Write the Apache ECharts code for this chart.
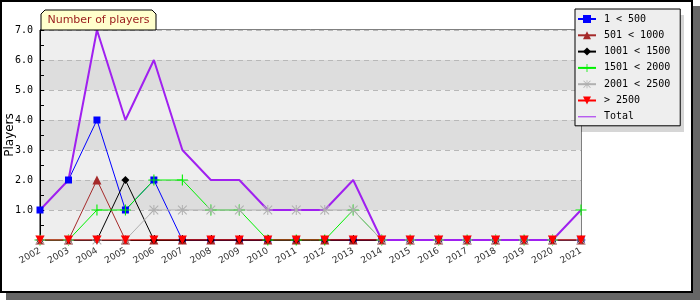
<!DOCTYPE html>
<html><head><meta charset="utf-8">
<script src="https://cdn.jsdelivr.net/npm/echarts@6/dist/echarts.min.js"></script>
<style>html,body{margin:0;padding:0;background:#fff}#c{width:700px;height:300px}</style>
</head><body><div id="c"></div>
<script>
// ---- data ----
const years = ['2002','2003','2004','2005','2006','2007','2008','2009','2010','2011','2012','2013','2014','2015','2016','2017','2018','2019','2020','2021'];
const seriesNames = ['1 < 500','501 < 1000','1001 < 1500','1501 < 2000','2001 < 2500','> 2500'];
const totalName = 'Total';
const s1to500     = [1,2,4,1,2,0,0,0,0,0,0,0,0,0,0,0,0,0,0,0];
const s501to1000  = [0,0,2,0,0,0,0,0,0,0,0,0,0,0,0,0,0,0,0,0];
const s1001to1500 = [0,0,0,2,0,0,0,0,0,0,0,0,0,0,0,0,0,0,0,0];
const s1501to2000 = [0,0,1,1,2,2,1,1,0,0,0,1,0,0,0,0,0,0,0,1];
const s2001to2500 = [0,0,0,0,1,1,1,1,1,1,1,1,0,0,0,0,0,0,0,0];
const sOver2500   = [0,0,0,0,0,0,0,0,0,0,0,0,0,0,0,0,0,0,0,0];
const total       = [1,2,7,4,6,3,2,2,1,1,1,2,0,0,0,0,0,0,0,1];
const yAxisTitle = 'Players';
const chartTitle = 'Number of players';

// ---- styles ----
const plus = 'path://M0,4.5H10V5.5H0Z M4.5,0H5.5V10H4.5Z';
const star = 'path://M0,4.5H10V5.5H0Z M4.5,0H5.5V10H4.5Z M1,0.3L9.7,9L9,9.7L0.3,1Z M9,0.3L9.7,1L1,9.7L0.3,9Z';
const downTri = 'path://M0,0L10,0L5,10Z';
const styles = [
  {color:'#0000ff', symbol:'rect', size:7},
  {color:'#a52a2a', symbol:'triangle', size:9},
  {color:'#000000', symbol:'diamond', size:8},
  {color:'#00f000', symbol:plus, size:11},
  {color:'#b0b0b0', symbol:star, size:10},
  {color:'#ff0000', symbol:downTri, size:9}
];
const values = [s1to500, s501to1000, s1001to1500, s1501to2000, s2001to2500, sOver2500];

const series = [];
// line parts (first, so legend uses them)
values.forEach((v,i)=>{
  series.push({name:seriesNames[i], type:'line', data:v, z:2,
    symbol:styles[i].symbol, symbolSize:styles[i].size, showSymbol:false,
    color:styles[i].color, lineStyle:{color:styles[i].color,width:1},
    itemStyle:{color:styles[i].color}, emphasis:{disabled:true}, silent:true});
});
series.push({name:totalName, type:'line', data:total, z:3, symbol:'none', showSymbol:false,
  color:'#a020f0', lineStyle:{color:'#a020f0',width:2}, emphasis:{disabled:true}, silent:true});
// marker parts (on top)
values.forEach((v,i)=>{
  series.push({name:seriesNames[i], type:'line', data:v, z:4,
    symbol:styles[i].symbol, symbolSize:styles[i].size, showSymbol:true, showAllSymbol:true,
    color:styles[i].color, lineStyle:{width:0, opacity:0},
    itemStyle:{color:styles[i].color}, emphasis:{disabled:true}, silent:true});
});

const legendData = seriesNames.map(n=>({name:n}));
legendData.push({name:totalName, itemStyle:{opacity:0}, lineStyle:{width:1}});

const chart = echarts.init(document.getElementById('c'), null, {renderer:'canvas'});
chart.setOption({
  animation:false,
  backgroundColor:'transparent',
  grid:{left:40, right:119, top:30, bottom:60, show:true, borderColor:'#000', borderWidth:1,
    backgroundColor:'transparent', containLabel:false, outerBoundsMode:'none'},
  xAxis:{type:'category', data:years, boundaryGap:false,
    axisLine:{lineStyle:{color:'#000',width:1}},
    axisTick:{show:true, inside:true, length:5, lineStyle:{color:'#000'}},
    axisLabel:{rotate:30, fontSize:9, fontFamily:'DejaVu Sans', color:'#333', margin:10, interval:0},
    splitLine:{show:false}},
  yAxis:{type:'value', min:0, max:7, interval:1,
    name:yAxisTitle, nameLocation:'middle', nameRotate:90, nameGap:24, nameMoveOverlap:false,
    nameTextStyle:{fontSize:12, fontFamily:'DejaVu Sans', color:'#000'},
    axisLine:{show:true, lineStyle:{color:'#000',width:1}},
    axisTick:{show:true, inside:true, length:4, lineStyle:{color:'#000'}},
    minorTick:{show:true, splitNumber:2, length:4, lineStyle:{color:'#000'}},
    axisLabel:{fontSize:10, fontFamily:'DejaVu Sans Mono', color:'#000', margin:7, showMinLabel:false,
      formatter:v=> v===0 ? '' : v.toFixed(1)},
    splitLine:{show:true, lineStyle:{color:'#b8b8b8', type:[5,4], width:1}},
    splitArea:{show:true, areaStyle:{color:['#eeeeee','#dddddd']}}},
  legend:{orient:'vertical', left:575, top:9, padding:[5,10,4,2], itemGap:6.3,
    itemWidth:18, itemHeight:10, backgroundColor:'#eeeeee', borderColor:'#000', borderWidth:1,
    textStyle:{fontFamily:'DejaVu Sans Mono', fontSize:10, color:'#000', padding:[0,0,0,3]},
    data:legendData, selectedMode:false},
  graphic:[
    {type:'rect', z:-10, shape:{x:6,y:6,width:694,height:294}, style:{fill:'#666666'}},
    {type:'rect', z:-9, shape:{x:1,y:1,width:691,height:291}, style:{fill:'#ffffff', stroke:'#000', lineWidth:2}},
    {type:'rect', z:-8, shape:{x:581,y:15,width:103,height:117}, style:{fill:'#d6d6d6'}},
    {type:'polygon', z:20, shape:{points:[[41,30],[41,14],[45,10],[152,10],[156,14],[156,30]]},
      style:{fill:'#ffffcc', stroke:'#000', lineWidth:1}},
    {type:'text', z:21, x:98.5, y:20, style:{text:chartTitle, fill:'#991a1a', font:'11px "DejaVu Sans"', align:'center', verticalAlign:'middle'}}
  ],
  series:series
});
</script>
</body></html>
